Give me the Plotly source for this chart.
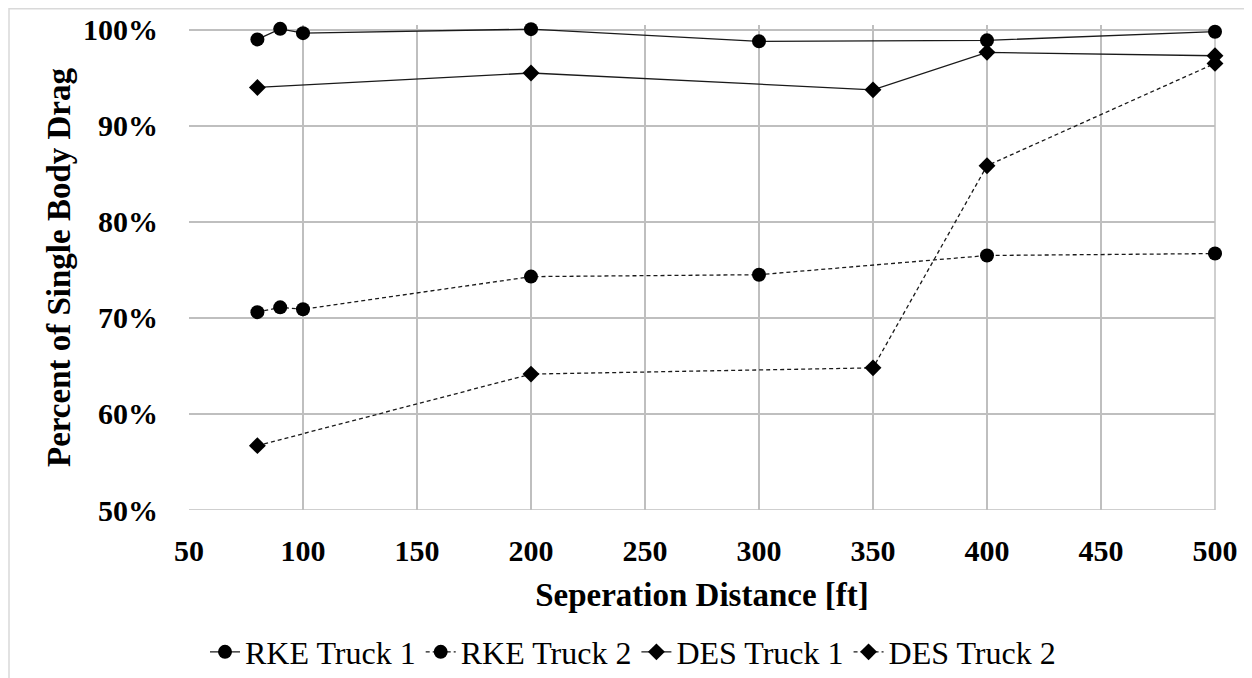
import plotly.graph_objects as go

# separation distance [ft]
dist_rke = [80, 90, 100, 200, 300, 400, 500]
dist_des = [80, 200, 350, 400, 500]

# percent of single body drag (fraction)
rke_truck1 = [0.990, 1.001, 0.9965, 1.0007, 0.988, 0.989, 0.998]
rke_truck2 = [0.706, 0.711, 0.709, 0.743, 0.745, 0.765, 0.767]
des_truck1 = [0.940, 0.955, 0.9375, 0.9765, 0.973]
des_truck2 = [0.567, 0.6415, 0.648, 0.8585, 0.965]

font = "Liberation Serif, Times New Roman, serif"

# page has an 8px body margin; 100% line at page y=30, 50% at 510, x 189..1215
Y_TOP = 1.005  # a little headroom so points just over 100% are not hidden
ML, MR, MB = 181, 45, 176
MT = 22 - (Y_TOP - 1.0) / 0.5 * 480
PW, PH = 1252 - ML - MR, 678 - MT - MB

fig = go.Figure()

series = [
    ("RKE Truck 1", dist_rke, rke_truck1, "circle", "solid", 14),
    ("RKE Truck 2", dist_rke, rke_truck2, "circle", "4px,3px", 14),
    ("DES Truck 1", dist_des, des_truck1, "diamond", "solid", 13),
    ("DES Truck 2", dist_des, des_truck2, "diamond", "4px,3px", 13),
]
for name, xs, ys, sym, dash, sz in series:
    fig.add_trace(go.Scatter(
        x=xs, y=ys, name=name, mode="lines+markers",
        line=dict(color="#1a1a1a", width=1.3, dash=dash),
        marker=dict(symbol=sym, size=sz, color="black"),
        cliponaxis=False,
    ))

fig.update_xaxes(
    range=[50, 500], dtick=50, tick0=50,
    showgrid=True, gridcolor="#bfbfbf", gridwidth=1.5,
    showline=False, zeroline=False,
    tickfont=dict(family=font, size=30, color="black"),
    ticks="", ticklabelstandoff=20,
    tickprefix="<b>", ticksuffix="</b>",
    title=dict(text="<b>Seperation Distance [ft]</b>",
               font=dict(family=font, size=33, color="black"), standoff=16),
)
fig.update_yaxes(
    range=[0.5, Y_TOP], dtick=0.1, tick0=0.5, tickformat=".0%",
    showgrid=True, gridcolor="#bfbfbf", gridwidth=1.5,
    showline=False, zeroline=False,
    tickfont=dict(family=font, size=30, color="black"),
    ticks="", ticklabelstandoff=30,
    tickprefix="<b>", ticksuffix="</b>",
    title=dict(text="<b>Percent of Single Body Drag</b>",
               font=dict(family=font, size=33, color="black"), standoff=2),
)

# bottom and right plot edges in grid colour
fig.add_shape(type="line", xref="paper", yref="y", x0=0, x1=1, y0=0.5, y1=0.5,
              line=dict(color="#bfbfbf", width=1.5), layer="below")
fig.add_shape(type="line", xref="paper", yref="y", x0=1, x1=1, y0=0.5, y1=1.0,
              line=dict(color="#bfbfbf", width=1.5), layer="below")

# outer chart border (light gray)
fig.add_shape(type="rect", xref="paper", yref="paper",
              x0=(1 - ML) / PW, x1=(1240 - ML) / PW,
              y0=(MT + PH - 676) / PH, y1=(MT + PH - 1) / PH,
              line=dict(color="#d9d9d9", width=1.5), layer="below")

fig.update_layout(
    width=1252, height=678,
    margin=dict(l=ML, r=MR, t=MT, b=MB, autoexpand=False),
    paper_bgcolor="white", plot_bgcolor="white",
    font=dict(family=font, color="black"),
    showlegend=True,
    legend=dict(orientation="h", x=(633 - 189) / PW, xanchor="center",
                y=(MT + PH - 644) / PH, yanchor="middle",
                font=dict(family=font, size=32, color="black"),
                itemwidth=30, tracegroupgap=0),
)

fig.write_html("out.html")
